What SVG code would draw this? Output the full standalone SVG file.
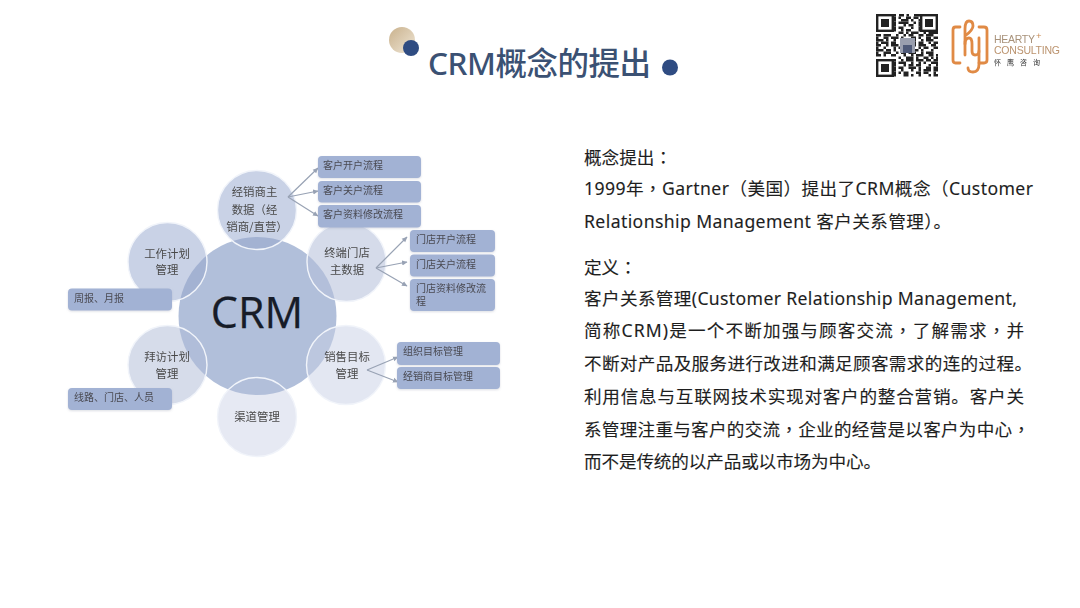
<svg xmlns="http://www.w3.org/2000/svg" width="1080" height="608" viewBox="0 0 1080 608">
<style>
.ring{fill:none;stroke:#f1f4fa;stroke-width:1.4}
.ct{font-family:"Noto Sans CJK SC","Noto Sans",sans-serif;font-size:11.4px;fill:#4a4a4a;text-anchor:middle;filter:url(#soft)}
.bx{fill:#a2b2d4;filter:url(#sh)}
.bt{font-family:"Noto Sans CJK SC","Noto Sans",sans-serif;font-size:10px;fill:#4a4a52;filter:url(#soft)}
.body{font-family:"Noto Sans","Noto Sans CJK SC",sans-serif;font-size:17.6px;fill:#1e1e1e;stroke:#1e1e1e;stroke-width:0.12}
.tc{font-family:"Noto Sans CJK TC",sans-serif}
.cn{fill:none;stroke:#98a2b4;stroke-width:1.2;marker-end:url(#ah)}
.qr{fill:none;stroke:#222;stroke-width:2.5}
.lg{fill:none;stroke:#e08a45;stroke-width:2.8;stroke-linecap:round;stroke-linejoin:round}
</style>
<defs>
<filter id="sh" x="-5%" y="-10%" width="110%" height="130%"><feDropShadow dx="0" dy="1" stdDeviation="0.8" flood-color="#8b93a5" flood-opacity="0.3"/></filter>
<filter id="soft" x="-5%" y="-10%" width="110%" height="120%"><feGaussianBlur stdDeviation="0.3"/></filter>
<marker id="ah" markerWidth="6" markerHeight="6" refX="5" refY="3" orient="auto" markerUnits="userSpaceOnUse"><path d="M0 0.5L5.5 3L0 5.5z" fill="#98a2b4"/></marker>
<linearGradient id="gold" x1="0" y1="0" x2="1" y2="1"><stop offset="0" stop-color="#c9b18c"/><stop offset="1" stop-color="#efe6d6"/></linearGradient>
<clipPath id="c1"><circle cx="257" cy="210" r="39.500"/></clipPath>
<clipPath id="c2"><circle cx="167.500" cy="262" r="39.500"/></clipPath>
<clipPath id="c3"><circle cx="346.500" cy="262" r="39.500"/></clipPath>
<clipPath id="c4"><circle cx="167.500" cy="365" r="39.500"/></clipPath>
<clipPath id="c5"><circle cx="346" cy="365" r="39.500"/></clipPath>
<clipPath id="c6"><circle cx="257" cy="417" r="39.500"/></clipPath>
</defs>
<rect width="1080" height="608" fill="#fff"/>

<g id="title">
<circle cx="402" cy="40" r="13" fill="url(#gold)"/>
<circle cx="411" cy="48" r="8" fill="#2f4c82"/>
<text x="428" y="75" font-family="Noto Sans,Noto Sans CJK SC,sans-serif" font-size="31.5" font-weight="500" fill="#3b5173" textLength="223">CRM概念的提出</text>
<circle cx="670" cy="67.500" r="8" fill="#2f4c82"/>
</g>

<g id="qr-code" filter="url(#soft)">
<g class="qr">
<path d="M876 15.2H938" stroke-dasharray="20 3 5 2.5 2.5 5 7.5 2.5 20"/>
<path d="M876 17.7H938" stroke-dasharray="20 2.5 2.5 5 5 2.5 5 2.5 2.5 15"/>
<path d="M876 20.2H938" stroke-dasharray="20 5 7.5 2.5 2.5 5 20"/>
<path d="M876 22.7H938" stroke-dasharray="20 2.5 10 5 2.5 2.5 20"/>
<path d="M876 25.2H938" stroke-dasharray="20 7.5 2.5 2.5 5 5 20"/>
<path d="M876 27.7H938" stroke-dasharray="20 2.5 5 7.5 2.5 5 20"/>
<path d="M876 30.2H938" stroke-dasharray="20 5 2.5 2.5 5 7.5 20"/>
<path d="M876 32.7H938" stroke-dasharray="0 22.5 5 2.5 2.5 2.5 7.5 5 2.5 2.5 5"/>
<path d="M876 35.2H938" stroke-dasharray="5 2.5 7.5 5 2.5 5 2.5 2.5 5 5 5 2.5 7.5 5 2.5"/>
<path d="M876 37.7H938" stroke-dasharray="2.5 5 5 2.5 7.5 2.5 2.5 7.5 5 2.5 2.5 5 5 2.5 5"/>
<path d="M876 40.2H938" stroke-dasharray="7.5 2.5 2.5 5 2.5 5 7.5 2.5 5 5 2.5 2.5 7.5"/>
<path d="M876 42.7H938" stroke-dasharray="2.5 2.5 7.5 2.5 5 5 2.5 5 7.5 2.5 5 5 2.5 2.5 5"/>
<path d="M876 45.2H938" stroke-dasharray="5 5 2.5 2.5 7.5 2.5 5 7.5 2.5 2.5 7.5 5 5"/>
<path d="M876 47.7H938" stroke-dasharray="2.5 5 2.5 7.5 2.5 2.5 5 5 2.5 7.5 2.5 2.5 5 5 5"/>
<path d="M876 50.2H938" stroke-dasharray="7.5 2.5 5 2.5 2.5 5 7.5 5 5 2.5 2.5 7.5 2.5 5"/>
<path d="M876 52.7H938" stroke-dasharray="2.5 5 7.5 5 2.5 2.5 5 2.5 7.5 5 2.5 2.5 7.5 5"/>
<path d="M876 55.2H938" stroke-dasharray="5 2.5 2.5 5 5 7.5 2.5 5 2.5 2.5 7.5 5 5 2.5 2.5"/>
<path d="M876 57.7H938" stroke-dasharray="0 22.5 2.5 5 7.5 2.5 2.5 5 5 2.5 2.5 2.5 5"/>
<path d="M876 60.2H938" stroke-dasharray="20 5 2.5 2.5 7.5 2.5 7.5 2.5 5 2.5 5"/>
<path d="M876 62.7H938" stroke-dasharray="20 2.5 7.5 5 2.5 5 2.5 2.5 2.5 5 7.5"/>
<path d="M876 65.2H938" stroke-dasharray="20 7.5 2.5 2.5 5 2.5 5 7.5 2.5 5"/>
<path d="M876 67.7H938" stroke-dasharray="20 2.5 5 5 7.5 2.5 2.5 5 5 2.5 5"/>
<path d="M876 70.2H938" stroke-dasharray="20 5 2.5 7.5 2.5 5 2.5 2.5 7.5 2.5 5"/>
<path d="M876 72.7H938" stroke-dasharray="20 2.5 2.5 2.5 5 7.5 5 2.5 5 5 2.5"/>
<path d="M876 75.2H938" stroke-dasharray="20 7.5 5 2.5 2.5 5 2.5 7.5 2.5 2.5 5"/>
</g>
<g fill="#fff" stroke="#222" stroke-width="2.4">
<rect x="877.2" y="15.2" width="15.6" height="15.6"/>
<rect x="921.2" y="15.2" width="15.6" height="15.6"/>
<rect x="877.2" y="60.2" width="15.6" height="15.6"/>
</g>
<g fill="#222">
<rect x="881" y="19" width="8" height="8"/>
<rect x="925" y="19" width="8" height="8"/>
<rect x="881" y="64" width="8" height="8"/>
</g>
<rect x="900" y="38" width="15" height="15" fill="#9a9fae"/>
<rect x="903" y="45" width="9" height="8" fill="#4f5a78"/>
</g>

<g id="logo" filter="url(#soft)">
<path class="lg" d="M960 27H955.500Q953 27 953 30V60Q953 63 955.500 63H960"/>
<path class="lg" d="M979 27H984Q987 27 987 30V60Q987 63 984 63H979"/>
<path class="lg" d="M965 55V29Q965 21 969 21Q973 21 973 26Q973 30 965 36"/>
<path class="lg" d="M965 44Q965 38 969 38Q972 38 972 44V51Q972 55 975 55Q979 55 979 51V38"/>
<path class="lg" d="M979 51V64Q979 72 973 72Q968 72 968 68"/>
<text x="994" y="43" font-family="Liberation Sans,sans-serif" font-size="10.500" fill="#a8927a" textLength="41">HEARTY</text>
<text x="1036" y="39" font-family="Liberation Sans,sans-serif" font-size="9.500" fill="#c98a52">+</text>
<text x="994" y="54" font-family="Liberation Sans,sans-serif" font-size="10.500" fill="#bb936e" textLength="66">CONSULTING</text>
<text x="994" y="64.500" font-family="Noto Sans CJK SC,sans-serif" font-size="7" fill="#333" textLength="46">怀 鹰 咨 询</text>
</g>

<g id="crm">
<circle cx="257.500" cy="316" r="79" fill="#b1bfda"/>
<text x="257" y="328" font-family="Open Sans,Noto Sans,sans-serif" font-size="43" fill="#171c28" stroke="#171c28" stroke-width="0.25" text-anchor="middle">CRM</text>
</g>

<g id="node-dealer">
<circle cx="257" cy="210" r="39.500" fill="#c9d2e6"/>
<circle cx="257.500" cy="316" r="79" fill="#a3b2d2" clip-path="url(#c1)"/>
<circle class="ring" cx="257" cy="210" r="39.500"/>
<text class="ct" x="254.500" y="196">经销商主</text>
<text class="ct" x="254.500" y="214">数据（经</text>
<text class="ct" x="257" y="231">销商/直营）</text>
</g>
<g id="node-work">
<circle cx="167.500" cy="262" r="39.500" fill="#c9d2e6"/>
<circle cx="257.500" cy="316" r="79" fill="#a3b2d2" clip-path="url(#c2)"/>
<circle class="ring" cx="167.500" cy="262" r="39.500"/>
<text class="ct" x="167" y="258">工作计划</text>
<text class="ct" x="167" y="274">管理</text>
</g>
<g id="node-store">
<circle cx="346.500" cy="262" r="39.500" fill="#d5dbea"/>
<circle cx="257.500" cy="316" r="79" fill="#b3bfda" clip-path="url(#c3)"/>
<circle class="ring" cx="346.500" cy="262" r="39.500"/>
<text class="ct" x="347" y="257">终端门店</text>
<text class="ct" x="347" y="274">主数据</text>
</g>
<g id="node-visit">
<circle cx="167.500" cy="365" r="39.500" fill="#d6dcea"/>
<circle cx="257.500" cy="316" r="79" fill="#b0bdd9" clip-path="url(#c4)"/>
<circle class="ring" cx="167.500" cy="365" r="39.500"/>
<text class="ct" x="167" y="361">拜访计划</text>
<text class="ct" x="167" y="378">管理</text>
</g>
<g id="node-sales">
<circle cx="346" cy="365" r="39.500" fill="#e3e7f2"/>
<circle cx="257.500" cy="316" r="79" fill="#bcc7df" clip-path="url(#c5)"/>
<circle class="ring" cx="346" cy="365" r="39.500"/>
<text class="ct" x="347" y="361">销售目标</text>
<text class="ct" x="347" y="378">管理</text>
</g>
<g id="node-channel">
<circle cx="257" cy="417" r="39.500" fill="#e6e9f3"/>
<circle cx="257.500" cy="316" r="79" fill="#b2bfda" clip-path="url(#c6)"/>
<circle class="ring" cx="257" cy="417" r="39.500"/>
<text class="ct" x="257" y="421">渠道管理</text>
</g>

<g id="connectors">
<path class="cn" d="M288 197L318 168"/>
<path class="cn" d="M288 197L318 191"/>
<path class="cn" d="M288 197L318 216"/>
<path class="cn" d="M376 268L407 237"/>
<path class="cn" d="M376 268L407 262"/>
<path class="cn" d="M376 268L407 286"/>
<path class="cn" d="M367 370L398 357"/>
<path class="cn" d="M367 370L398 382"/>
</g>

<g id="box-open"><rect class="bx" x="318" y="156" width="103" height="22" rx="4"/><text class="bt" x="323" y="169">客户开户流程</text></g>
<g id="box-close"><rect class="bx" x="318" y="181" width="103" height="21.500" rx="4"/><text class="bt" x="323" y="193.500">客户关户流程</text></g>
<g id="box-change"><rect class="bx" x="318" y="205" width="103" height="22.500" rx="4"/><text class="bt" x="323" y="218">客户资料修改流程</text></g>
<g id="box-store-open"><rect class="bx" x="410" y="230" width="85" height="22" rx="4"/><text class="bt" x="416" y="243">门店开户流程</text></g>
<g id="box-store-close"><rect class="bx" x="410" y="254.500" width="85" height="22" rx="4"/><text class="bt" x="416" y="268">门店关户流程</text></g>
<g id="box-store-change"><rect class="bx" x="410" y="279" width="85" height="32" rx="4"/><text class="bt" x="416" y="292">门店资料修改流</text><text class="bt" x="416" y="305">程</text></g>
<g id="box-org"><rect class="bx" x="397" y="342" width="103" height="23" rx="4"/><text class="bt" x="403" y="355">组织目标管理</text></g>
<g id="box-dealer"><rect class="bx" x="397" y="367" width="103" height="22" rx="4"/><text class="bt" x="403" y="380">经销商目标管理</text></g>
<g id="box-report"><rect class="bx" x="68" y="288.500" width="104" height="22" rx="4"/><text class="bt" x="74" y="302">周报、月报</text></g>
<g id="box-route"><rect class="bx" x="68" y="388" width="104" height="22" rx="4"/><text class="bt" x="74" y="401">线路、门店、人员</text></g>

<g id="description">
<text class="body" x="584" y="164">概念提出<tspan class="tc">：</tspan></text>
<text class="body" x="584" y="195" textLength="449">1999年<tspan class="tc">，</tspan>Gartner（美国）提出了CRM概念（Customer</text>
<text class="body" x="584" y="228" textLength="367">Relationship Management 客户关系管理）。</text>
<text class="body" x="584" y="274">定义<tspan class="tc">：</tspan></text>
<text class="body" x="584" y="305" textLength="433">客户关系管理(Customer Relationship Management,</text>
<text class="body" x="584" y="337" textLength="440">简称CRM)是一个不断加强与顾客交流<tspan class="tc">，</tspan>了解需求<tspan class="tc">，</tspan>并</text>
<text class="body" x="584" y="370" textLength="448">不断对产品及服务进行改进和满足顾客需求的连的过程。</text>
<text class="body" x="584" y="403" textLength="440">利用信息与互联网技术实现对客户的整合营销。客户关</text>
<text class="body" x="584" y="436" textLength="446">系管理注重与客户的交流<tspan class="tc">，</tspan>企业的经营是以客户为中心<tspan class="tc">，</tspan></text>
<text class="body" x="584" y="468" textLength="297">而不是传统的以产品或以市场为中心。</text>
</g>
</svg>
